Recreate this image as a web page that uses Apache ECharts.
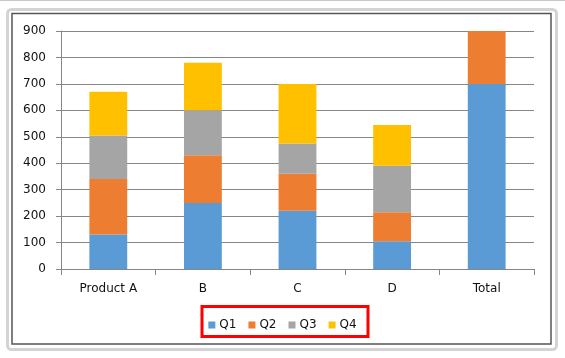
<!DOCTYPE html>
<html>
<head>
<meta charset="utf-8">
<script src="https://cdn.jsdelivr.net/npm/echarts@6/dist/echarts.min.js"></script>
<style>
html,body{margin:0;padding:0;background:#fff;}
#c{width:565px;height:358px;}
</style>
</head>
<body>
<div id="c"></div>
<script>
const categories = ['Product A', 'B', 'C', 'D', 'Total'];
const q1 = [130, 250, 220, 105, 700];
const q2 = [210, 180, 140, 110, 200];
const q3 = [165, 170, 115, 175, 0];
const q4 = [165, 180, 225, 155, 0];
const seriesNames = ['Q1', 'Q2', 'Q3', 'Q4'];
const yTicks = [0, 100, 200, 300, 400, 500, 600, 700, 800, 900];

const colors = ['#5B9BD5', '#ED7D31', '#A5A5A5', '#FFC000'];
const font = 'DejaVu Sans';
const chart = echarts.init(document.getElementById('c'), null, {renderer: 'canvas'});
const dataSets = [q1, q2, q3, q4];

chart.setOption({
  animation: false,
  color: colors,
  textStyle: {fontFamily: font},
  graphic: [
    {type: 'rect', shape: {x: 0, y: 0, width: 565, height: 1}, style: {fill: '#c8c8c8'}, silent: true},
    {type: 'rect', shape: {x: 7.5, y: 9.5, width: 549, height: 340, r: 4}, style: {fill: 'none', stroke: '#d4d4d4', lineWidth: 3}, silent: true, z: -1},
    {type: 'rect', shape: {x: 12, y: 13.5, width: 539, height: 330.5}, style: {fill: 'none', stroke: '#555555', lineWidth: 1.5}, silent: true},
    {type: 'rect', shape: {x: 202, y: 306.5, width: 166, height: 30}, style: {fill: 'none', stroke: '#ff0000', lineWidth: 3}, silent: true}
  ],
  legend: {
    data: seriesNames,
    left: 'center',
    top: 314,
    icon: 'rect',
    itemWidth: 7,
    itemHeight: 7,
    itemGap: 12,
    textStyle: {fontFamily: font, fontSize: 12, color: '#111', padding: [0, 0, 0, -1]}
  },
  grid: {left: 61, right: 31, top: 31, bottom: 89, containLabel: false},
  xAxis: {
    type: 'category',
    data: categories,
    axisLine: {lineStyle: {color: '#868686', width: 1}},
    axisTick: {show: true, length: 6, lineStyle: {color: '#868686'}},
    axisLabel: {fontFamily: font, fontSize: 12, color: '#111', margin: 14}
  },
  yAxis: {
    type: 'value',
    min: yTicks[0],
    max: yTicks[yTicks.length - 1],
    interval: 100,
    axisLine: {show: true, lineStyle: {color: '#868686', width: 1}},
    axisTick: {show: true, length: 5, lineStyle: {color: '#868686'}},
    splitLine: {lineStyle: {color: '#868686', width: 1}},
    axisLabel: {fontFamily: font, fontSize: 12, color: '#111', margin: 15}
  },
  series: seriesNames.map((n, i) => ({
    name: n,
    type: 'bar',
    stack: 'total',
    barWidth: '40%',
    data: dataSets[i]
  }))
});
</script>
</body>
</html>
